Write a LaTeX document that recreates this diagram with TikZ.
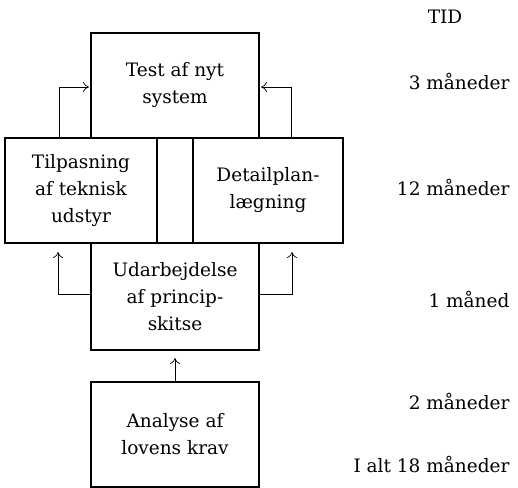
\documentclass[tikz,border=0pt]{standalone}
\usepackage{fontspec}
\setmainfont{DejaVu Serif}
\usetikzlibrary{positioning,arrows.meta}
\begin{document}
\begin{tikzpicture}[
    x=1pt,y=-1pt,
    box/.style={draw=black,line width=1.8pt,outer sep=0pt,inner sep=0pt,align=center,minimum height=105pt,font=\fontsize{18.5}{27}\selectfont},
    tid/.style={anchor=east,font=\fontsize{18.5}{27}\selectfont},
    pil/.style={-{To[length=6pt,width=10pt]},line width=0.7pt}
]
    \useasboundingbox (0,0) rectangle (518,487);
    % middle row
    \node[box,minimum width=152pt] (tilp) at (81,190.5) {Tilpasning\\af teknisk\\udstyr};
    \node[box,minimum width=36pt,right=0pt of tilp] (mellem) {};
    \node[box,minimum width=150pt,right=0pt of mellem] (detail) {Detailplan-\\lægning};
    \node[box,minimum width=168pt,above=0pt of mellem] (test) {Test af nyt\\system};
    \node[box,minimum width=168pt,minimum height=107pt,below=0pt of mellem] (udarb) {Udarbejdelse\\af princip-\\skitse};
    \node[box,minimum width=168pt,below=32pt of udarb] (analyse) {Analyse af\\lovens krav};
    % time column
    \node[font=\fontsize{18.5}{27}\selectfont] (tid) at (445,17) {TID};
    \node[tid] (t3) at (513,82) {3 måneder};
    \node[tid] (t12) at (513,188) {12 måneder};
    \node[tid] (t1) at (513,300) {1 måned};
    \node[tid] (t2) at (513,402) {2 måneder};
    \node[tid] (talt) at (513,465) {I alt 18 måneder};
    % connectors
    \coordinate (tl) at (59,87);
    \coordinate (tr) at (291,87);
    \coordinate (bl) at (58,294);
    \coordinate (br) at (292,294);
    \draw[pil,shorten >=2pt] (tl |- tilp.north) |- (test.west |- tl);
    \draw[pil,shorten >=2pt] (tr |- detail.north) |- (test.east |- tr);
    \draw[pil,shorten >=9pt] (udarb.west |- bl) -| (tilp.south -| bl);
    \draw[pil,shorten >=9pt] (udarb.east |- br) -| (detail.south -| br);
    \draw[pil,shorten >=8pt] (analyse.north) -- (udarb.south);
\end{tikzpicture}
\end{document}
